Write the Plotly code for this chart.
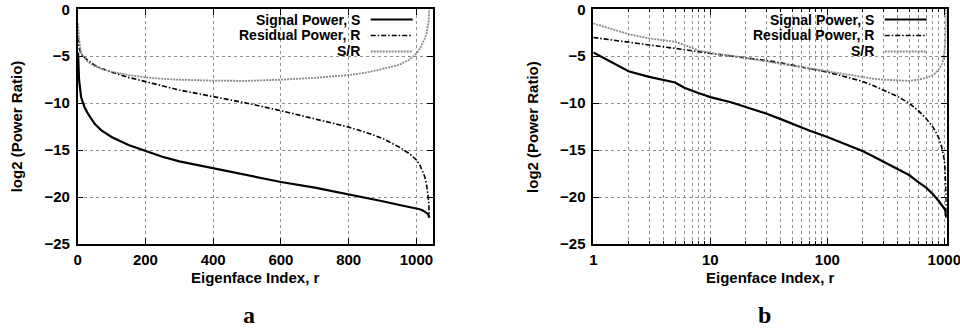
import plotly.graph_objects as go

# ---- data (log2 power ratios vs eigenface index r) ----
r_idx = [1, 2, 3, 4, 5, 6, 7, 8, 9, 10, 15, 20, 30, 40, 50, 70, 100, 150, 200, 250,
         300, 400, 500, 600, 700, 800, 850, 900, 950, 980, 1000, 1010, 1020, 1025,
         1030, 1034, 1036, 1038]
signal_S = [-4.6, -6.6, -7.2, -7.5, -7.8, -8.35, -8.7, -8.95, -9.15, -9.35, -9.9, -10.4,
            -11.1, -11.7, -12.2, -12.9, -13.6, -14.45, -15.1, -15.7,
            -16.2, -16.95, -17.65, -18.4, -19.0, -19.7, -20.05, -20.45, -20.85, -21.05,
            -21.2, -21.3, -21.45, -21.55, -21.65, -21.8, -21.95, -22.2]
residual_R = [-3.0, -3.55, -3.8, -4.0, -4.15, -4.3, -4.4, -4.5, -4.6, -4.7, -4.95, -5.15,
              -5.45, -5.7, -5.95, -6.3, -6.7, -7.25, -7.7, -8.15,
              -8.6, -9.3, -10.0, -10.8, -11.65, -12.55, -13.1, -13.75, -14.7, -15.4,
              -16.05, -16.6, -17.4, -17.9, -18.7, -19.6, -20.4, -22.1]
ratio_SR = [-1.5, -2.65, -3.1, -3.3, -3.45, -3.8, -4.15, -4.4, -4.5, -4.65, -4.95, -5.2,
            -5.6, -5.85, -6.05, -6.35, -6.65, -7.0, -7.25, -7.4,
            -7.5, -7.6, -7.62, -7.5, -7.3, -7.0, -6.75, -6.35, -5.9, -5.35,
            -4.7, -4.2, -3.5, -3.1, -2.6, -1.8, -1.2, 0.0]

series_names = ["Signal Power, S", "Residual Power, R", "S/R"]
x_ticks_lin = [0, 200, 400, 600, 800, 1000]
x_ticks_log = [1, 10, 100, 1000]
x_minor_log = [2, 3, 4, 5, 6, 7, 8, 9, 20, 30, 40, 50, 60, 70, 80, 90,
               200, 300, 400, 500, 600, 700, 800, 900]
y_ticks = [0, -5, -10, -15, -20, -25]
panel_labels = ["a", "b"]
x_title = "Eigenface Index, r"
y_title = "log2 (Power Ratio)"

# ---- styling ----
W, H = 960, 331
FONT = "Liberation Sans, Arial, Helvetica, sans-serif"
styles = [dict(color="black", width=2.2, dash="solid"),
          dict(color="black", width=1.6, dash="5px,2px,1.5px,2px"),
          dict(color="#8a8a8a", width=1.8, dash="2px,1px")]
series_vals = [signal_S, residual_R, ratio_SR]

def px(x):
    return x / W

def py(y):
    return 1 - y / H

top_px, bot_px = 9.3, 244.0
dom_y = [py(bot_px), py(top_px)]
dom_a = [px(77.7), px(432.7)]
dom_b = [px(593.3), px(946.7)]

fig = go.Figure()
for vals, name, st in zip(series_vals, series_names, styles):
    fig.add_trace(go.Scatter(x=r_idx, y=vals, mode="lines", name=name, line=st,
                             xaxis="x", yaxis="y", showlegend=False))
    fig.add_trace(go.Scatter(x=r_idx, y=vals, mode="lines", name=name, line=st,
                             xaxis="x2", yaxis="y2", showlegend=False))

grid = dict(showgrid=True, gridcolor="#8f8f8f", gridwidth=1, griddash="dot")
axis_common = dict(showline=True, linecolor="black", linewidth=1.5, mirror="ticks",
                   ticks="inside", ticklen=6, tickcolor="black", tickwidth=1,
                   zeroline=False, automargin=False, ticklabeloverflow="allow",
                   tickfont=dict(family=FONT, size=15, color="black", weight="bold"),
                   **grid)

fig.update_layout(
    width=W, height=H,
    margin=dict(l=0, r=0, t=0, b=0),
    paper_bgcolor="white", plot_bgcolor="white",
    showlegend=False,
    xaxis=dict(domain=dom_a, range=[0, 1048], tickvals=x_ticks_lin, anchor="y",
               ticklabelstandoff=1, **axis_common),
    yaxis=dict(domain=dom_y, range=[-25, 0], tickvals=y_ticks, anchor="x",
               ticklabelstandoff=3, **axis_common),
    xaxis2=dict(domain=dom_b, type="log", range=[0, 3.0204], tickvals=x_ticks_log,
                ticktext=[str(v) for v in x_ticks_log], anchor="y2",
                ticklabelstandoff=1,
                minor=dict(tickvals=x_minor_log, ticks="inside", ticklen=3,
                           tickcolor="black", showgrid=True, gridcolor="#8f8f8f",
                           griddash="dot", gridwidth=1),
                **axis_common),
    yaxis2=dict(domain=dom_y, range=[-25, 0], tickvals=y_ticks, anchor="x2",
                ticklabelstandoff=3, **axis_common),
)

annotations = []
shapes = []
tfont = dict(family=FONT, size=15, color="black", weight="bold")
kfont = dict(family=FONT, size=14, color="black", weight="bold")
for i, (dom, xref, yref) in enumerate([(dom_a, "x", "y"), (dom_b, "x2", "y2")]):
    left_px = dom[0] * W
    right_px = dom[1] * W
    mid_px = (left_px + right_px) / 2
    # axis titles
    annotations.append(dict(text=x_title, x=px(mid_px), y=py(277), xref="paper", yref="paper",
                            showarrow=False, font=tfont, xanchor="center", yanchor="middle"))
    annotations.append(dict(text=y_title, x=px(left_px - 61), y=py((top_px + bot_px) / 2),
                            xref="paper", yref="paper", textangle=-90, showarrow=False,
                            font=tfont, xanchor="center", yanchor="middle"))
    # panel label
    annotations.append(dict(text=panel_labels[i], x=px(mid_px - 6), y=py(315), xref="paper",
                            yref="paper", showarrow=False,
                            font=dict(family="Liberation Serif, Times New Roman, serif",
                                      size=24, color="black", weight="bold"),
                            xanchor="center", yanchor="middle"))
    # key: opaque box, right-aligned text, then line sample
    text_end = right_px - 71
    shapes.append(dict(type="rect", xref="paper", yref="paper",
                       x0=px(text_end - 162), x1=px(right_px - 17),
                       y0=py(60), y1=py(top_px + 1), fillcolor="white",
                       line=dict(width=0), layer="between"))
    for k, (name, st) in enumerate(zip(series_names, styles)):
        row_y = 19.5 + 16 * k
        annotations.append(dict(text=name, x=px(text_end), y=py(row_y), xref="paper",
                                yref="paper", showarrow=False, font=kfont,
                                xanchor="right", yanchor="middle"))
        shapes.append(dict(type="line", xref="paper", yref="paper",
                           x0=px(text_end + 9), x1=px(right_px - 20),
                           y0=py(row_y), y1=py(row_y),
                           line=dict(color=st["color"], width=st["width"], dash=st["dash"])))

fig.update_layout(annotations=annotations, shapes=shapes)
fig.write_html("out.html", config={"displayModeBar": False},
               post_script="document.body.style.margin='0';document.body.style.overflow='hidden';")
